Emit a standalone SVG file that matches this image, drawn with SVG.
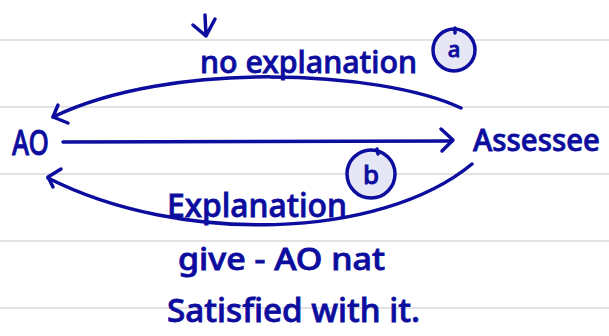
<svg xmlns="http://www.w3.org/2000/svg" width="609" height="336" viewBox="0 0 609 336">
<style>
.rule{stroke:#d9d9d9;stroke-width:1.5}
.ink{fill:none;stroke:#0c0c9e;stroke-width:3.5;stroke-linecap:round;stroke-linejoin:round}
.txt{font-family:"Noto Sans","Liberation Sans",sans-serif;fill:#0c0c9e;stroke:#0c0c9e;stroke-width:0.8;font-weight:500}
.badge{fill:#e6e6f6;stroke:#0c0c9e;stroke-width:3.5}
</style>
<rect width="609" height="336" fill="#ffffff"/>
<g id="paper-lines">
<line class="rule" x1="0" y1="40" x2="609" y2="40"/>
<line class="rule" x1="0" y1="107" x2="609" y2="107"/>
<line class="rule" x1="0" y1="174" x2="609" y2="174"/>
<line class="rule" x1="0" y1="241" x2="609" y2="241"/>
<line class="rule" x1="0" y1="308" x2="609" y2="308"/>
</g>
<g id="connectors">
<path class="ink" d="M205,15 L206,36 M193,25 L206,36 L215,19"/>
<path class="ink" d="M461,108 C380,70 170,60 53,117"/>
<path class="ink" d="M58,105 L53,117 L68,123"/>
<path class="ink" d="M63,142 L452,141"/>
<path class="ink" d="M441,129 L453,140 L442,151"/>
<path class="ink" d="M472,164 C380,240 180,245 48,178"/>
<path class="ink" d="M61,169 L48,177 L53,187"/>
</g>
<g id="node-AO">
<text class="txt" x="12" y="155" font-size="34" textLength="37" lengthAdjust="spacingAndGlyphs">AO</text>
</g>
<g id="node-Assessee">
<text class="txt" x="473" y="151" font-size="30" textLength="127" lengthAdjust="spacingAndGlyphs">Assessee</text>
</g>
<g id="label-no-explanation">
<text class="txt" x="200" y="73" font-size="30" textLength="217" lengthAdjust="spacingAndGlyphs">no explanation</text>
</g>
<g id="badge-a">
<circle class="badge" cx="454" cy="50" r="21"/>
<path class="ink" d="M455,28 L455,33" stroke-width="2.5"/>
<text class="txt" x="454" y="57" font-size="22" text-anchor="middle">a</text>
</g>
<g id="badge-b">
<circle class="badge" cx="371" cy="174" r="24"/>
<path class="ink" d="M377,149 L378,154" stroke-width="2.5"/>
<text class="txt" x="371" y="184" font-size="26" text-anchor="middle">b</text>
</g>
<g id="label-explanation">
<text class="txt" x="167" y="217" font-size="33" textLength="180" lengthAdjust="spacingAndGlyphs">Explanation</text>
<text class="txt" x="178" y="270" font-size="30" textLength="207" lengthAdjust="spacingAndGlyphs">give - AO nat</text>
<text class="txt" x="167" y="322" font-size="33" textLength="253" lengthAdjust="spacingAndGlyphs">Satisfied with it.</text>
</g>
</svg>
